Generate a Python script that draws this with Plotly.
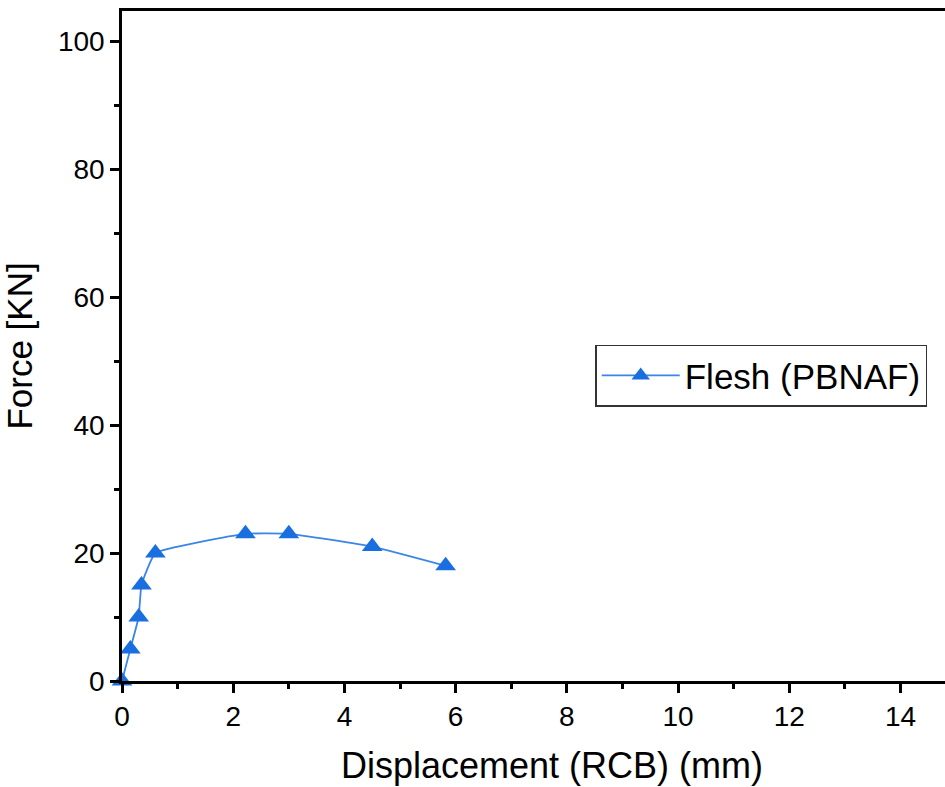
import plotly.graph_objects as go

displacement = [0.0, 0.15, 0.3, 0.35, 0.6, 2.22, 3.0, 4.5, 5.82]
force = [0, 5, 10, 15, 20, 23, 23, 21, 18]
series_name = "Flesh (PBNAF)"
x_title = "Displacement (RCB) (mm)"
y_title = "Force [KN]"

blue = "#1a6fe0"
font_family = "Liberation Sans, Arial, sans-serif"

fig = go.Figure()
fig.add_trace(go.Scatter(
    x=displacement, y=force, name=series_name, mode="lines+markers",
    line=dict(color="#3a86e8", width=1.8, shape="spline", smoothing=0.35),
    marker=dict(symbol="triangle-up", size=18, color=blue),
    cliponaxis=False,
))

fig.update_layout(
    width=945, height=787,
    margin=dict(l=122, r=0, t=11, b=106),
    paper_bgcolor="white", plot_bgcolor="white",
    font=dict(family=font_family, color="black", size=25),
    showlegend=True,
    legend=dict(
        x=0.575, y=0.502, xanchor="left", yanchor="top",
        bordercolor="#333333", borderwidth=1.5,
        font=dict(size=35, family=font_family, color="black"),
        bgcolor="white", itemwidth=78,
    ),
)

# x-axis title placed as annotation (the original figure is cropped on the right)
fig.add_annotation(
    text=x_title, xref="paper", yref="paper", x=0.522, y=0,
    xanchor="center", yanchor="middle", yshift=-84, showarrow=False,
    borderpad=0,
    font=dict(size=36, family=font_family, color="black"),
)

fig.update_xaxes(
    range=[0, 14.8], showgrid=False, zeroline=False, automargin=False,
    showline=True, linecolor="black", linewidth=2.5, mirror=True,
    ticks="outside", ticklen=9, tickwidth=2.5, tickcolor="black",
    tickvals=[0, 2, 4, 6, 8, 10, 12, 14],
    minor=dict(ticks="outside", ticklen=5, tickwidth=2.5, tickcolor="black", dtick=1, showgrid=False),
    tickfont=dict(size=28),
)
fig.update_yaxes(
    range=[0, 104.7], showgrid=False, zeroline=False, automargin=False,
    showline=True, linecolor="black", linewidth=2.5,
    ticks="outside", ticklen=9, tickwidth=2.5, tickcolor="black",
    tickvals=[0, 20, 40, 60, 80, 100],
    minor=dict(ticks="outside", ticklen=5, tickwidth=2.5, tickcolor="black", dtick=10, showgrid=False),
    tickfont=dict(size=28),
    title=dict(text=y_title, font=dict(size=35), standoff=16),
)

fig.write_html("out.html", config={"displayModeBar": False},
               post_script="document.body.style.margin='0';")
